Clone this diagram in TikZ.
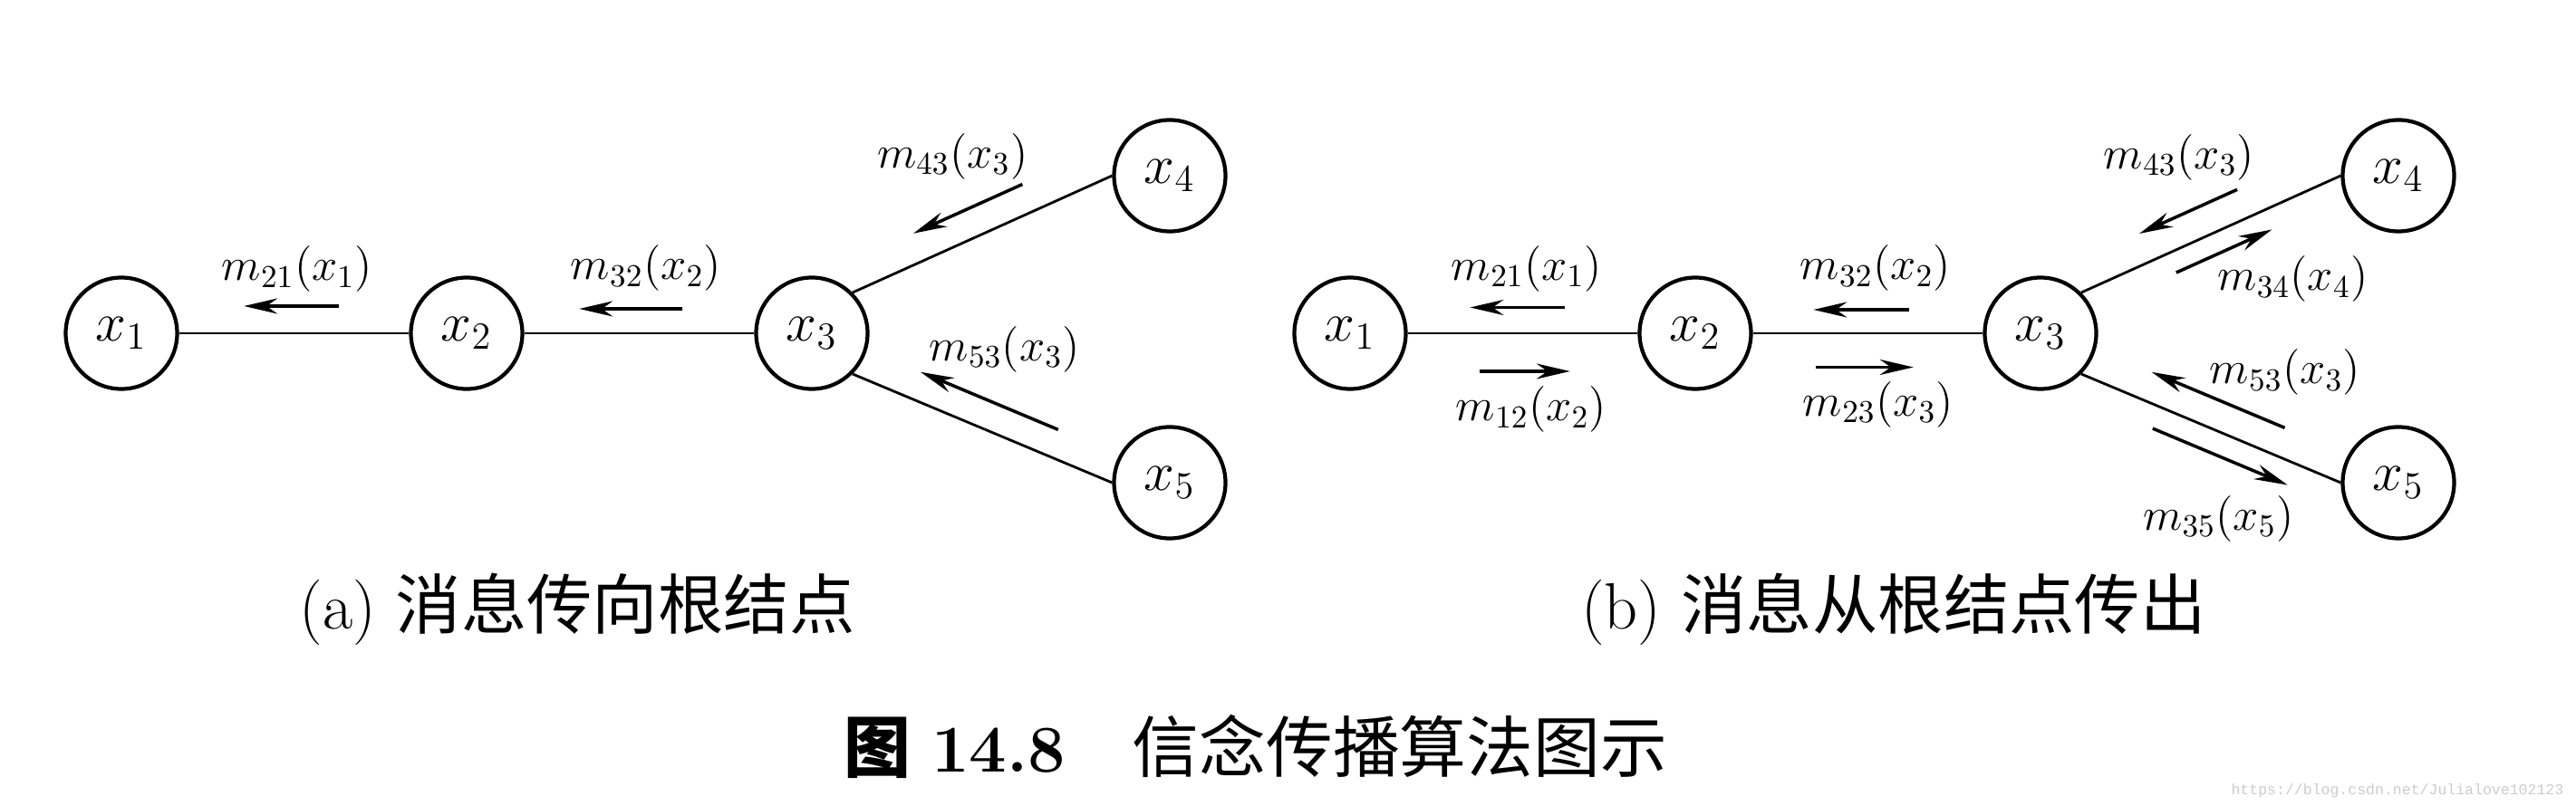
\documentclass[tikz,border=0pt]{standalone}
\usepackage{fontspec}
\newfontfamily\cjkfont{Noto Sans CJK SC}
\newfontfamily\wmfont{Liberation Mono}
\usetikzlibrary{arrows.meta,automata,positioning,calc}

\begin{document}
\begin{tikzpicture}[>={Stealth[length=3.7mm,width=1.7mm]},node distance=3.81cm,on grid,
    every state/.style={draw,line width=1.2pt,minimum size=1.23cm,inner sep=0pt,
        font=\fontsize{17}{20}\selectfont},
    every edge/.style={draw,line width=0.8pt},
    msg/.style={->,line width=1pt},
    lbl/.style={inner sep=0pt,font=\fontsize{14.7}{17}\selectfont},
    captext/.style={anchor=base,inner sep=0pt,font=\fontsize{20.6}{24}\selectfont}]
    \useasboundingbox (0,0) rectangle (28.43,-8.90);

    % (a) messages towards the root
    \node[state] (a1) at (1.34,-3.68) {$x_1$};
    \node[state] (a2) [right=of a1] {$x_2$};
    \node[state] (a3) [right=of a2] {$x_3$};
    \node[state] (a4) [above right=1.74cm and 3.95cm of a3] {$x_4$};
    \node[state] (a5) [below right=1.65cm and 3.95cm of a3] {$x_5$};

    \path (a1) edge (a2)
          (a2) edge (a3)
          (a3.north east) edge (a4.west)
          (a3.south east) edge (a5.west);

    \draw[msg] ($(a1.east)!.694!(a2.west)!3mm!90:(a2.west)$) -- ($(a1.east)!.282!(a2.west)!3mm!90:(a2.west)$)
        node[lbl, midway, anchor=south, xshift=.65mm, yshift=1.4mm] {$m_{21}(x_1)$};
    \draw[msg] ($(a2.east)!.686!(a3.west)!2.7mm!90:(a3.west)$) -- ($(a2.east)!.239!(a3.west)!2.7mm!90:(a3.west)$)
        node[lbl, midway, anchor=south, xshift=1.7mm, yshift=1.8mm] {$m_{32}(x_2)$};
    \draw[msg] ($(a3.north east)!.70!(a4.west)!3.2mm!90:(a4.west)$) -- ($(a3.north east)!.28!(a4.west)!3.2mm!90:(a4.west)$)
        node[lbl, midway, anchor=south, xshift=-1.7mm, yshift=3.1mm] {$m_{43}(x_3)$};
    \draw[msg] ($(a3.south east)!.75!(a5.west)!3.1mm!90:(a5.west)$) -- ($(a3.south east)!.22!(a5.west)!3.1mm!90:(a5.west)$)
        node[lbl, midway, anchor=south, xshift=1.7mm, yshift=3mm] {$m_{53}(x_3)$};

    % (b) messages out of the root
    \node[state] (b1) at (14.90,-3.68) {$x_1$};
    \node[state] (b2) [right=of b1] {$x_2$};
    \node[state] (b3) [right=of b2] {$x_3$};
    \node[state] (b4) [above right=1.74cm and 3.95cm of b3] {$x_4$};
    \node[state] (b5) [below right=1.65cm and 3.95cm of b3] {$x_5$};

    \path (b1) edge (b2)
          (b2) edge (b3)
          (b3.north east) edge (b4.west)
          (b3.south east) edge (b5.west);

    \draw[msg] ($(b1.east)!.682!(b2.west)!2.85mm!90:(b2.west)$) -- ($(b1.east)!.271!(b2.west)!2.85mm!90:(b2.west)$)
        node[lbl, midway, anchor=south, xshift=1.05mm, yshift=1.6mm] {$m_{21}(x_1)$};
    \draw[msg] ($(b1.east)!.314!(b2.west)!4.2mm!-90:(b2.west)$) -- ($(b1.east)!.706!(b2.west)!4.2mm!-90:(b2.west)$)
        node[lbl, midway, anchor=north, xshift=.7mm, yshift=-1.5mm] {$m_{12}(x_2)$};
    \draw[msg] ($(b2.east)!.678!(b3.west)!2.6mm!90:(b3.west)$) -- ($(b2.east)!.263!(b3.west)!2.6mm!90:(b3.west)$)
        node[lbl, midway, anchor=south, xshift=1.6mm, yshift=1.9mm] {$m_{32}(x_2)$};
    \draw[msg] ($(b2.east)!.275!(b3.west)!3.75mm!-90:(b3.west)$) -- ($(b2.east)!.698!(b3.west)!3.75mm!-90:(b3.west)$)
        node[lbl, midway, anchor=north, xshift=1.5mm, yshift=-1.4mm] {$m_{23}(x_3)$};
    \draw[msg] ($(b3.north east)!.648!(b4.west)!3.3mm!90:(b4.west)$) -- ($(b3.north east)!.271!(b4.west)!3.3mm!90:(b4.west)$)
        node[lbl, midway, anchor=south, xshift=-1mm, yshift=3.3mm] {$m_{43}(x_3)$};
    \draw[msg] ($(b3.north east)!.333!(b4.west)!2.3mm!-90:(b4.west)$) -- ($(b3.north east)!.702!(b4.west)!2.3mm!-90:(b4.west)$)
        node[lbl, midway, anchor=north west, xshift=-.9mm, yshift=-.4mm] {$m_{34}(x_4)$};
    \draw[msg] ($(b3.south east)!.741!(b5.west)!3.2mm!90:(b5.west)$) -- ($(b3.south east)!.228!(b5.west)!3.2mm!90:(b5.west)$)
        node[lbl, midway, anchor=south west, xshift=-1.1mm, yshift=.35mm] {$m_{53}(x_3)$};
    \draw[msg] ($(b3.south east)!.309!(b5.west)!2.5mm!-90:(b5.west)$) -- ($(b3.south east)!.829!(b5.west)!2.5mm!-90:(b5.west)$)
        node[lbl, midway, anchor=north, xshift=-.2mm, yshift=-4.1mm] {$m_{35}(x_5)$};

    % captions
    \node[captext] (capa) at (6.37,-6.95) {(a) {\cjkfont 消息传向根结点}};
    \node[captext] (capb) at (20.90,-6.95) {(b) {\cjkfont 消息从根结点传出}};
    \node[captext, font=\fontsize{21}{25}\selectfont] (title) at (13.86,-8.52)
        {{\cjkfont\bfseries 图}~\textbf{14.8}\quad{\cjkfont 信念传播算法图示}};
    \node[anchor=east, inner sep=0pt, text=black!20, font=\wmfont\fontsize{4.7}{5}\selectfont] (wm)
        at (28.30,-8.73) {https://blog.csdn.net/Julialove102123};
\end{tikzpicture}
\end{document}
